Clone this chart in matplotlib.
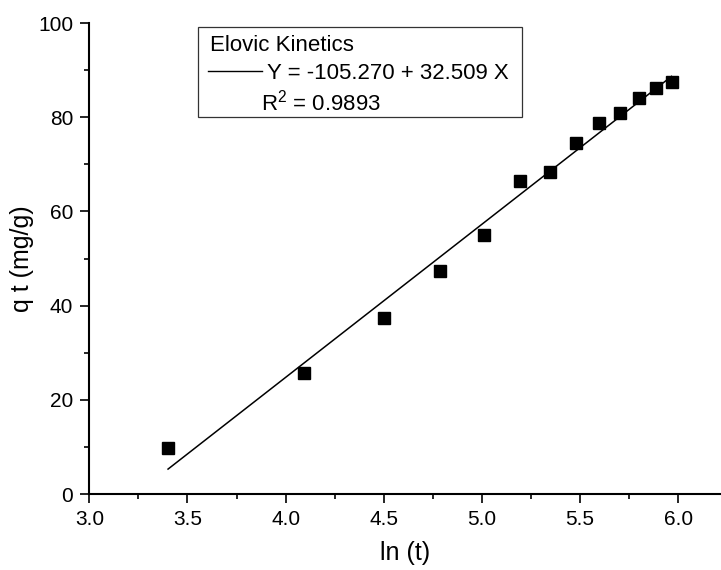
import matplotlib
matplotlib.use("Agg")
import matplotlib.pyplot as plt
from matplotlib.patches import Rectangle
from matplotlib.lines import Line2D
from matplotlib.ticker import MultipleLocator

plt.rcParams['font.family'] = ['Liberation Sans', 'DejaVu Sans']
plt.rcParams['mathtext.fontset'] = 'custom'
plt.rcParams['mathtext.rm'] = 'Liberation Sans'

# ln(t) and q_t
ln_t = [3.401, 4.094, 4.500, 4.787, 5.011, 5.193, 5.347, 5.481, 5.598, 5.704, 5.799, 5.886, 5.966]
q_t = [9.7, 25.6, 37.3, 47.3, 55.0, 66.5, 68.4, 74.6, 78.8, 80.8, 84.1, 86.3, 87.5]

# fit from the legend
intercept = -105.270
slope = 32.509
r2 = 0.9893

fig = plt.figure(figsize=(7.21, 5.70), dpi=100)
ax = fig.add_axes([0.1239, 0.1333, 0.8761, 0.8263])

ax.plot(ln_t, q_t, 's', color='black', markersize=8, zorder=3)
x_fit = [min(ln_t), max(ln_t)]
y_fit = [intercept + slope * v for v in x_fit]
ax.plot(x_fit, y_fit, '-', color='black', linewidth=1.1)

ax.set_xlim(3.0, 6.218)
ax.set_ylim(0, 100)
ax.xaxis.set_major_locator(MultipleLocator(0.5))
ax.xaxis.set_minor_locator(MultipleLocator(0.25))
ax.yaxis.set_major_locator(MultipleLocator(20))
ax.yaxis.set_minor_locator(MultipleLocator(10))
ax.xaxis.set_major_formatter(matplotlib.ticker.FormatStrFormatter('%.1f'))

for s in ['top', 'right']:
    ax.spines[s].set_visible(False)
for s in ['left', 'bottom']:
    ax.spines[s].set_linewidth(1.5)

ax.tick_params(which='major', direction='out', length=6.5, width=1.2, labelsize=15, pad=5)
ax.tick_params(which='minor', direction='out', length=3.6, width=1.2)

ax.set_xlabel('ln (t)', fontsize=18, labelpad=9)
ax.set_ylabel('q t (mg/g)', fontsize=18, labelpad=3)

# legend box
fig.patches.append(Rectangle((0.2746, 0.7947), 0.4494, 0.1579, transform=fig.transFigure,
                             fill=False, edgecolor='#333333', linewidth=0.9))
fig.text(0.2913, 0.911, 'Elovic Kinetics', fontsize=16, va='baseline')
fig.lines.append(Line2D([0.2889, 0.3630], [0.8754, 0.8754], transform=fig.transFigure,
                        color='black', linewidth=1.0))
fig.text(0.3699, 0.8609, 'Y = %.3f + %.3f X' % (intercept, slope), fontsize=16, va='baseline')
fig.text(0.3616, 0.807, r'R$\mathregular{^2}$ = %.4f' % r2, fontsize=16, va='baseline')

fig.savefig('out.png', dpi=100)
